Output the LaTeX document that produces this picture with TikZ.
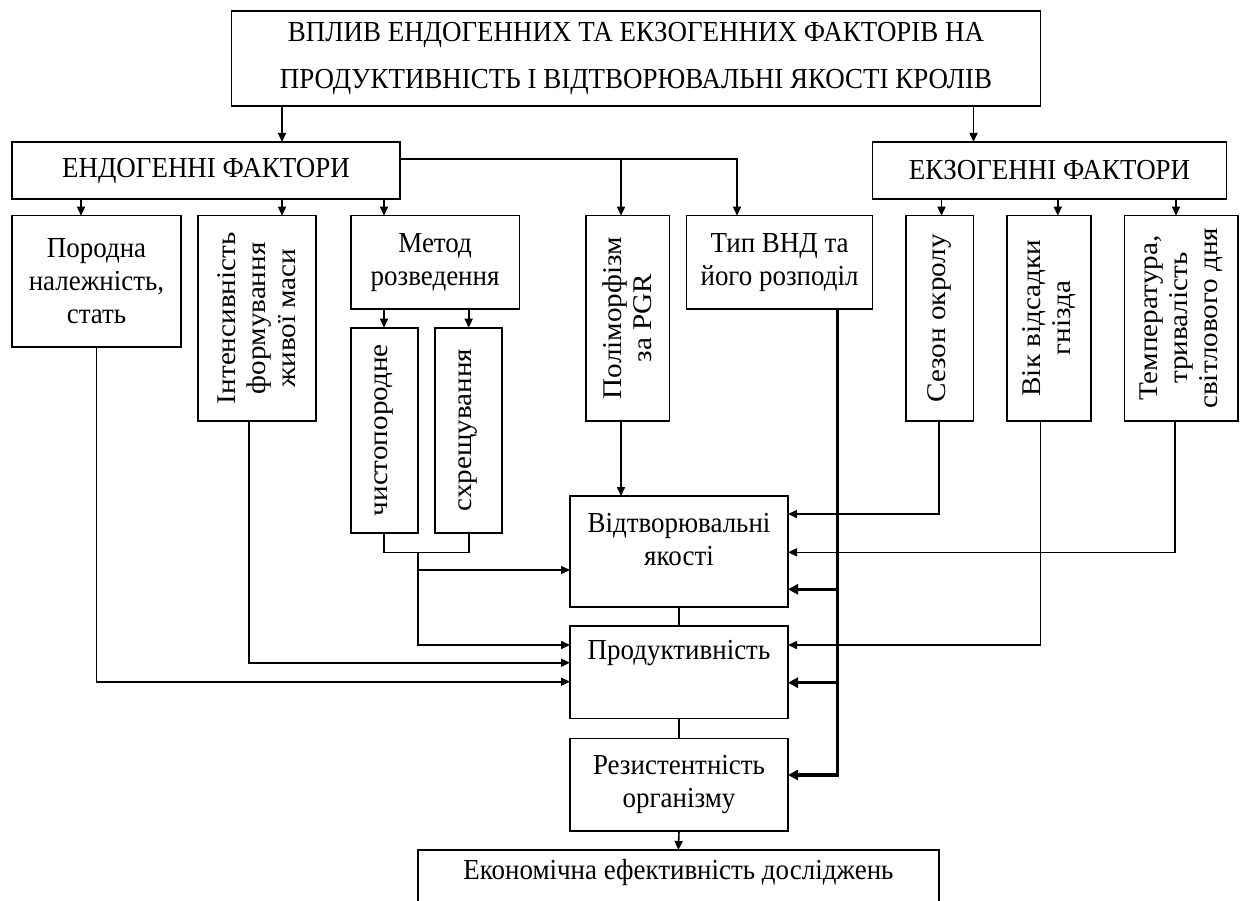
\documentclass[tikz,border=0pt]{standalone}
\usepackage{fontspec}
\setmainfont{Liberation Serif}[FakeStretch=0.93]
\newfontfamily\rotfont{Liberation Serif}[FakeStretch=1.08]
\usetikzlibrary{arrows.meta}
\tikzset{
  box/.style={draw, line width=1.6pt, inner sep=0pt, outer sep=0pt, align=center,
              font=\fontsize{29}{33}\selectfont},
  txt/.style={align=center, inner sep=0pt, font=\fontsize{29}{33}\selectfont},
  rtxt/.style={align=center, inner sep=0pt, rotate=90, font=\rotfont\fontsize{27}{30}\selectfont},
  ttl/.style={align=center, inner sep=0pt, font=\fontsize{29}{47}\selectfont},
  ln/.style={line width=1.6pt},
  arr/.style={ln, -{Triangle[length=9pt,width=8pt]}},
  bus/.style={line width=3.2pt},
  busarr/.style={bus, -{Triangle[length=10pt,width=10pt]}},
}
\newcommand\mkbox[6]{\node[box, minimum width={#4-#2}, minimum height={#5-#3}] (#1) at ({(#2+#4)/2},{(#3+#5)/2}) {#6};}
\begin{document}
\begin{tikzpicture}[x=1pt,y=-1pt]
\useasboundingbox (0,0) rectangle (1241,901);
\clip (0,0) rectangle (1241,901);
% boxes
\mkbox{top}{231.6}{11}{1040.4}{106}{}
\node[ttl] at (top.center) {ВПЛИВ ЕНДОГЕННИХ ТА ЕКЗОГЕННИХ ФАКТОРІВ НА\\ПРОДУКТИВНІСТЬ І ВІДТВОРЮВАЛЬНІ ЯКОСТІ КРОЛІВ};
\mkbox{endo}{12}{142}{400}{199}{ЕНДОГЕННІ ФАКТОРИ}
\mkbox{exo}{872.6}{142}{1226.5}{199}{ЕКЗОГЕННІ ФАКТОРИ}
\mkbox{porod}{12}{215.7}{181}{347}{Породна\\належність,\\стать}
\mkbox{intens}{198}{215.7}{316}{420.7}{}
\node[rtxt] at (intens.center) {Інтенсивність\\формування\\живої маси};
\mkbox{metod}{350.8}{215.7}{519.4}{308.7}{Метод\\розведення}
\mkbox{chysto}{350.8}{327.7}{417.7}{532.7}{}
\node[rtxt] at (chysto.center) {чистопородне};
\mkbox{skhr}{435}{327.7}{502}{532.7}{}
\node[rtxt] at (skhr.center) {схрещування};
\mkbox{poli}{586}{215.7}{669.5}{420.7}{}
\node[rtxt] at (poli.center) {Поліморфізм\\за PGR};
\mkbox{tip}{686.5}{215.7}{872.6}{308.7}{Тип ВНД та\\його розподіл}
\mkbox{sezon}{905.8}{215.7}{973.5}{420.7}{}
\node[rtxt] at (sezon.center) {Сезон окролу};
\mkbox{vik}{1007}{215.7}{1091}{420.7}{}
\node[rtxt] at (vik.center) {Вік відсадки\\гнізда};
\mkbox{temp}{1124.4}{215.7}{1238}{420.7}{}
\node[rtxt] at (temp.center) {Температура,\\тривалість\\світлового дня};
\mkbox{vidt}{570}{496}{788}{606.7}{}
\node[txt] (vidtT) at (679,540) {Відтворювальні\\якості};
\mkbox{prod}{570}{626}{788}{718.3}{}
\node[txt] (prodT) at (679,653) {Продуктивність};
\mkbox{rez}{570}{738.3}{788}{831}{Резистентність\\організму}
\mkbox{econ}{417.7}{850}{939}{945}{}
\node[txt] (econT) at (678.4,873) {Економічна ефективність досліджень};
% helper coordinates
\coordinate (xa) at (282,0);
\coordinate (xb) at (973.5,0);
\coordinate (xc) at (81,0);
\coordinate (xd) at (384,0);
\coordinate (xe) at (249,0);
\coordinate (xf) at (468.7,0);
\coordinate (xg) at (941.5,0);
\coordinate (xh) at (1057.8,0);
\coordinate (xi) at (1176,0);
\coordinate (xp) at (621,0);
\coordinate (xs) at (939,0);
\coordinate (xv) at (1040.4,0);
\coordinate (xt) at (1175,0);
\coordinate (xj) at (837.7,0);
\coordinate (ya) at (0,159);
\coordinate (yb) at (0,681.7);
\coordinate (yc) at (0,662.7);
\coordinate (yd) at (0,552.3);
\coordinate (ye) at (0,645);
\coordinate (yf) at (0,570);
\coordinate (yg) at (0,514);
\coordinate (yk) at (0,775);
\coordinate (yl) at (0,589.3);
\coordinate (ym) at (0,682.7);
\coordinate (ja) at (621,159);
\coordinate (jb) at (737,159);
\coordinate (jc) at (417.7,552.3);
% top level
\draw[arr] (top.south -| xa) -- (endo.north -| xa);
\draw[arr] (top.south -| xb) -- (exo.north -| xb);
% endogenous
\draw[arr] (endo.south -| xc) -- (porod.north -| xc);
\draw[arr] (endo.south -| xa) -- (intens.north -| xa);
\draw[arr] (endo.south -| xd) -- (metod.north -| xd);
\draw[arr] (endo.east |- ya) -- (jb) -- (tip.north -| jb);
\draw[arr] (ja) -- (poli.north -| ja);
% exogenous
\draw[arr] (exo.south -| xg) -- (sezon.north -| xg);
\draw[arr] (exo.south -| xh) -- (vik.north -| xh);
\draw[arr] (exo.south -| xi) -- (temp.north -| xi);
% method
\draw[arr] (metod.south -| xd) -- (chysto.north -| xd);
\draw[arr] (metod.south -| xf) -- (skhr.north -| xf);
% to outcomes, left side
\draw[arr] (porod.south) -- (porod.south |- yb) -- (prod.west |- yb);
\draw[arr] (intens.south -| xe) -- (xe |- yc) -- (prod.west |- yc);
\draw[ln] (chysto.south -| xd) -- (xd |- yd) -- (xf |- yd) -- (skhr.south -| xf);
\draw[arr] (jc) -- (jc |- ye) -- (prod.west |- ye);
\draw[arr] (jc |- yf) -- (vidt.west |- yf);
\draw[arr] (poli.south -| xp) -- (vidt.north -| xp);
% right side
\draw[arr] (sezon.south -| xs) -- (xs |- yg) -- (vidt.east |- yg);
\draw[arr] (temp.south -| xt) -- (xt |- yd) -- (vidt.east |- yd);
\draw[arr] (vik.south -| xv) -- (xv |- ye) -- (prod.east |- ye);
\draw[busarr] (tip.south -| xj) -- (xj |- yk) -- (rez.east |- yk);
\draw[busarr] (xj |- yl) -- (vidt.east |- yl);
\draw[busarr] (xj |- ym) -- (prod.east |- ym);
% chain
\draw[ln] (vidt.south) -- (prod.north);
\draw[ln] (prod.south) -- (rez.north);
\draw[arr] (rez.south) -- (econ.north);
\end{tikzpicture}
\end{document}
